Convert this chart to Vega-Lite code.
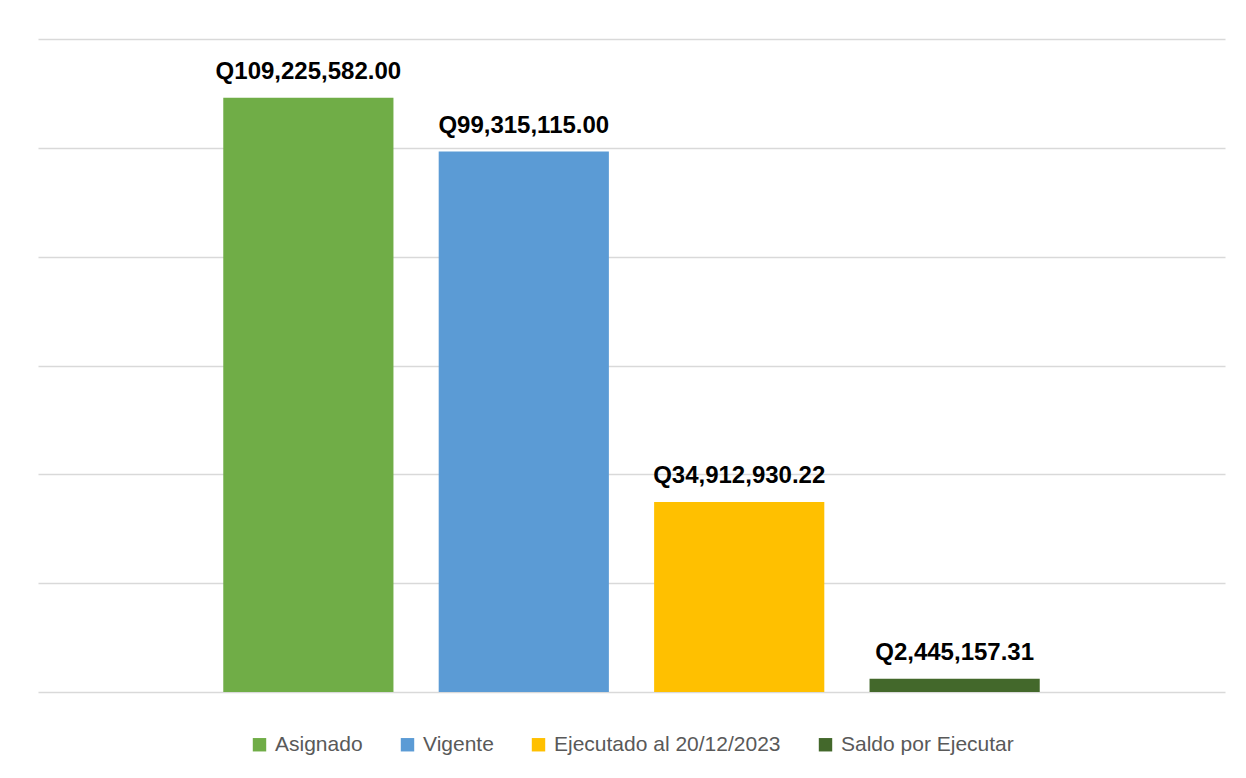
{
  "$schema": "https://vega.github.io/schema/vega-lite/v6.json",
  "width": 1187,
  "height": 653,
  "autosize": {"type": "none"},
  "padding": {"left": 38, "top": 39, "right": 21, "bottom": 86},
  "background": "white",
  "config": {
    "font": "Liberation Sans",
    "view": {"stroke": null},
    "legend": {"layout": {"bottom": {"anchor": "middle"}}},
    "locale": {"number": {"decimal": ".", "thousands": ",", "grouping": [3], "currency": ["Q", ""]}}
  },
  "data": {
    "values": [
      {"serie": "Asignado", "monto": 109225582.00},
      {"serie": "Vigente", "monto": 99315115.00},
      {"serie": "Ejecutado al 20/12/2023", "monto": 34912930.22},
      {"serie": "Saldo por Ejecutar", "monto": 2445157.31}
    ]
  },
  "encoding": {
    "x": {
      "field": "serie",
      "type": "nominal",
      "sort": null,
      "axis": null,
      "scale": {"paddingInner": 0.21, "paddingOuter": 0.86}
    },
    "y": {
      "field": "monto",
      "type": "quantitative",
      "scale": {"domain": [0, 120000000], "nice": false},
      "axis": {
        "title": null,
        "labels": false,
        "ticks": false,
        "domain": false,
        "values": [0, 20000000, 40000000, 60000000, 80000000, 100000000, 120000000],
        "gridColor": "#d9d9d9",
        "gridWidth": 1.5
      }
    }
  },
  "layer": [
    {
      "mark": {"type": "bar"},
      "encoding": {
        "color": {
          "field": "serie",
          "type": "nominal",
          "sort": null,
          "scale": {
            "domain": ["Asignado", "Vigente", "Ejecutado al 20/12/2023", "Saldo por Ejecutar"],
            "range": ["#70AD47", "#5B9BD5", "#FFC000", "#43682B"]
          },
          "legend": {
            "title": null,
            "orient": "bottom",
            "direction": "horizontal",
            "symbolType": "square",
            "symbolSize": 180,
            "symbolStrokeWidth": 0,
            "labelFontSize": 21,
            "labelColor": "#595959",
            "labelOffset": 5,
            "labelLimit": 400,
            "columnPadding": 34,
            "offset": 42
          }
        }
      }
    },
    {
      "mark": {"type": "text", "baseline": "alphabetic", "dy": -19, "fontWeight": "bold", "fontSize": 24, "color": "#000000"},
      "encoding": {
        "text": {"field": "monto", "type": "quantitative", "format": "$,.2f"}
      }
    }
  ]
}
